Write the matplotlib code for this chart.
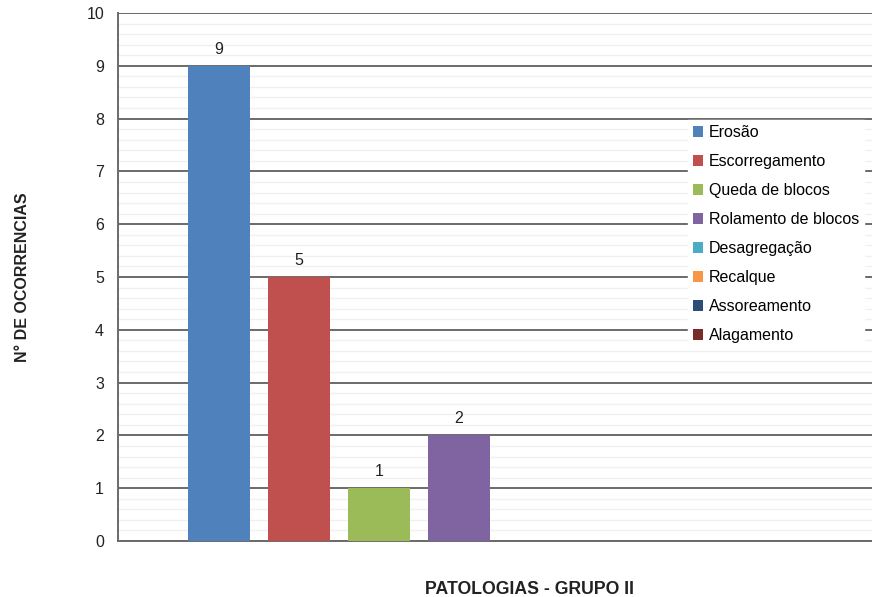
import matplotlib.pyplot as plt
import numpy as np

plt.rcParams['font.family'] = ['Liberation Sans', 'DejaVu Sans']

categorias = ['Erosão', 'Escorregamento', 'Queda de blocos', 'Rolamento de blocos',
              'Desagregação', 'Recalque', 'Assoreamento', 'Alagamento']
ocorrencias = [9, 5, 1, 2, 0, 0, 0, 0]
cores = ['#4F81BD', '#C0504D', '#9BBB59', '#8064A2',
         '#4BACC6', '#F79646', '#2C4D75', '#772C2A']

fig = plt.figure(figsize=(8.72, 5.97), dpi=100)
ax = fig.add_axes([118 / 872, 1 - 541 / 597, (880 - 118) / 872, (541 - 13) / 597])

x = np.arange(len(categorias))
for i in range(len(categorias)):
    ax.bar(x[i], ocorrencias[i], width=0.775, color=cores[i], label=categorias[i],
           linewidth=0, zorder=3)
    if ocorrencias[i] > 0:
        ax.text(x[i], ocorrencias[i] + 0.17, str(ocorrencias[i]), ha='center', va='bottom',
                fontsize=11.5, color='#222222', zorder=4)

ax.set_xlim(-1.2625, 8.2625)
ax.set_ylim(0, 10)
ax.set_yticks(range(0, 11))
ax.set_yticks(np.arange(0, 10.01, 0.2), minor=True)
ax.set_xticks([])
ax.tick_params(axis='y', which='both', length=0, labelsize=11.5, pad=10, colors='#222222')
ax.grid(axis='y', which='major', color='#6a6a6a', linewidth=1.4, zorder=1)
ax.grid(axis='y', which='minor', color='#f0f0f0', linewidth=1.0, zorder=0)

for s in ['top', 'right']:
    ax.spines[s].set_visible(False)
ax.spines['left'].set_color('#6a6a6a')
ax.spines['left'].set_linewidth(1.4)
ax.spines['bottom'].set_color('#6a6a6a')
ax.spines['bottom'].set_linewidth(1.4)

ax.set_ylabel('N° DE OCORRENCIAS', fontsize=11.5, fontweight='bold', color='#222222')
ax.yaxis.set_label_coords(-(118 - 30) / (880 - 118), 0.5)
ax.set_xlabel('PATOLOGIAS - GRUPO II', fontsize=12.7, fontweight='bold', color='#222222')
ax.xaxis.set_label_coords((529 - 118) / (880 - 118), -0.075)

leg = ax.legend(loc='upper left', bbox_to_anchor=(688 / 872, 1 - 120 / 597),
                bbox_transform=fig.transFigure, frameon=True, fancybox=False,
                edgecolor='white', framealpha=1, fontsize=11.5, handlelength=0.65,
                handleheight=0.65, handletextpad=0.35, labelspacing=0.88,
                borderpad=0.3, borderaxespad=0)
leg.set_zorder(5)

fig.savefig('out.png', dpi=100)
